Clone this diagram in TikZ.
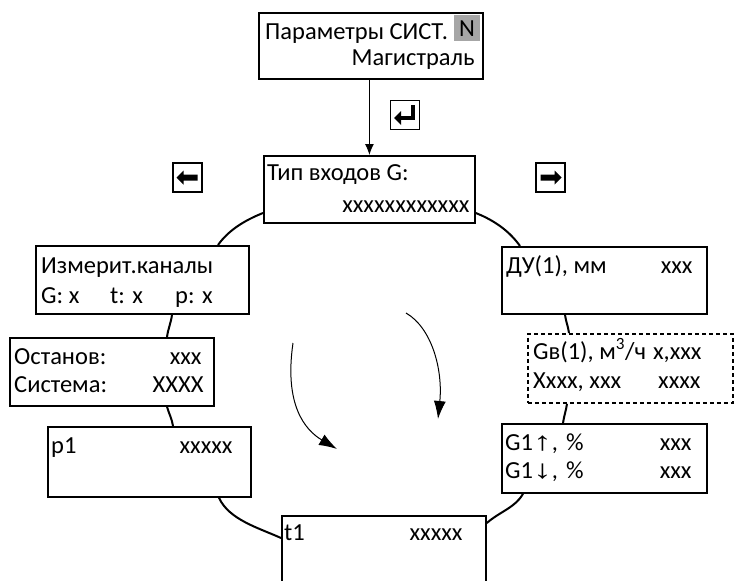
\documentclass[tikz,border=0pt]{standalone}
\usepackage{fontspec}
\usepackage{graphicx}
\setmainfont{Carlito}
\newfontfamily\arr{Liberation Sans}
\newcommand{\myarrow}[1]{{\arr\fontsize{26}{28}\selectfont\scalebox{1.45}[1]{#1}}}
\usetikzlibrary{calc,arrows.meta}
\begin{document}
\begin{tikzpicture}[x=1pt,y=-1pt,
  box/.style={draw, line width=1.8pt, rectangle, inner sep=0pt, anchor=north west},
  dbox/.style={box, dash pattern=on 4pt off 3pt},
  txt/.style={inner sep=0pt, font=\fontsize{24.5}{28}\selectfont},
  link/.style={line width=2pt},
  flow/.style={line width=1pt, -{Latex[length=18pt,width=12pt]}},
  icon/.style={draw, line width=1.4pt, rectangle, minimum size=29pt, inner sep=0pt},
  glyph/.style={fill=black}
]
\path[use as bounding box, clip] (0,0) rectangle (734,581);

% boxes
\node[box, minimum width=224pt, minimum height=66pt] (top) at (258,12) {};
\node[box, minimum width=211pt, minimum height=67pt] (tip) at (263,155) {};
\node[box, minimum width=213pt, minimum height=68pt] (izm) at (35,245) {};
\node[box, minimum width=204pt, minimum height=68pt] (ost) at (9,337) {};
\node[box, minimum width=203pt, minimum height=70pt] (p1) at (47,426) {};
\node[box, minimum width=204pt, minimum height=90pt] (t1) at (281,515) {};
\node[box, minimum width=205pt, minimum height=67pt] (du) at (501,246) {};
\node[dbox, minimum width=205pt, minimum height=69pt] (gv) at (527,333) {};
\node[box, minimum width=205pt, minimum height=69pt] (g1) at (501,423) {};

% texts
\node[txt, anchor=base west] (t-top1) at ($(top.north west)+(7,27)$) {Параметры СИСТ.};
\node[txt, anchor=north west, fill=black!35, minimum width=26pt, minimum height=26pt] (t-n) at ($(top.north east)+(-30,3)$) {N};
\node[txt, anchor=base east] (t-top2) at ($(top.north east)+(-9,53)$) {Магистраль};

\node[txt, anchor=base west] (t-tip1) at ($(tip.north west)+(4,25)$) {Тип входов G:};
\node[txt, anchor=base east] (t-tip2) at ($(tip.north east)+(-6,57)$) {xxxxxxxxxxxx};

\node[txt, anchor=base west] (t-izm1) at ($(izm.north west)+(6,28)$) {Измерит.каналы};
\node[txt, anchor=base west] (t-izm2) at ($(izm.north west)+(6,58)$) {G: x};
\node[txt, anchor=base west] (t-izm3) at ($(izm.north west)+(75,58)$) {t: x};
\node[txt, anchor=base west] (t-izm4) at ($(izm.north west)+(140,58)$) {p: x};

\node[txt, anchor=base west] (t-ost1) at ($(ost.north west)+(5,27)$) {Останов:};
\node[txt, anchor=base west] (t-ost2) at ($(ost.north west)+(5,55)$) {Система:};
\node[txt, anchor=base east] (t-ost3) at ($(ost.north east)+(-13,27)$) {xxx};
\node[txt, anchor=base east] (t-ost4) at ($(ost.north east)+(-11,55)$) {XXXX};

\node[txt, anchor=base west] (t-p1a) at ($(p1.north west)+(4,27)$) {p1};
\node[txt, anchor=base east] (t-p1b) at ($(p1.north east)+(-19,27)$) {xxxxx};

\node[txt, anchor=base west] (t-t1a) at ($(t1.north west)+(3,25)$) {t1};
\node[txt, anchor=base east] (t-t1b) at ($(t1.north east)+(-24,25)$) {xxxxx};

\node[txt, anchor=base west] (t-du1) at ($(du.north west)+(5,27)$) {ДУ(1), мм};
\node[txt, anchor=base east] (t-du2) at ($(du.north east)+(-15,27)$) {xxx};

\node[txt, anchor=base west] (t-gv1) at ($(gv.north west)+(6,26)$) {Gв(1), м\textsuperscript{3}/ч};
\node[txt, anchor=base east] (t-gv2) at ($(gv.north east)+(-32,26)$) {x,xxx};
\node[txt, anchor=base west] (t-gv3) at ($(gv.north west)+(6,55)$) {Xxxx, xxx};
\node[txt, anchor=base east] (t-gv4) at ($(gv.north east)+(-33,55)$) {xxxx};

\node[txt, anchor=base west] (t-g1a) at ($(g1.north west)+(4,27)$) {G1\myarrow{↑},\hspace{8pt}\%};
\node[txt, anchor=base west] (t-g1b) at ($(g1.north west)+(4,55)$) {G1\myarrow{↓},\hspace{8pt}\%};
\node[txt, anchor=base east] (t-g1c) at ($(g1.north east)+(-16,27)$) {xxx};
\node[txt, anchor=base east] (t-g1d) at ($(g1.north east)+(-16,55)$) {xxx};

% ring connectors
\draw[link] ($(tip.north west)+(0,58)$) .. controls +(-20,8) and +(10,-14) .. ($(izm.north west)+(183,0)$);
\draw[link] ($(tip.north east)+(0,58)$) .. controls +(20,8) and +(-10,-14) .. ($(du.north west)+(19,0)$);
\draw[link] ($(izm.south west)+(137,0)$) .. controls +(-1,8) and +(1,-8) .. ($(ost.north west)+(158,0)$);
\draw[link] ($(ost.south west)+(158,0)$) .. controls +(2,7) and +(-1,-7) .. ($(p1.north west)+(126,0)$);
\draw[link] ($(p1.south west)+(172,0)$) .. controls +(10,22) and +(-22,-10) .. ($(t1.north west)+(0,23)$);
\draw[link] ($(du.south west)+(64,0)$) .. controls +(1,7) and +(-1,-7) .. ($(gv.north west)+(42,0)$);
\draw[link] ($(gv.south west)+(40,0)$) .. controls +(-1,7) and +(1,-7) .. ($(g1.north west)+(62,0)$);
\draw[link] ($(g1.south west)+(22,0)$) .. controls +(-8,14) and +(14,-12) .. ($(t1.north east)+(0,8)$);

% entry arrow
\draw[line width=1pt, -{Latex[length=11pt,width=9pt]}] (tip.north |- top.south) -- (tip.north);

% icons
\node[icon] (enter) at (405,115) {};
\draw[line width=3.5pt] ($(enter.center)+(8,-10)$) -- ($(enter.center)+(8,3)$) -- ($(enter.center)+(-5,3)$);
\fill[glyph] ($(enter.center)+(-11,3)$) -- ($(enter.center)+(-4,-4)$) -- ($(enter.center)+(-4,10)$) -- cycle;

\node[icon] (left) at (187.5,177.5) {};
\fill[glyph] ($(left.center)+(-11,0)$) -- ($(left.center)+(-4,-7)$) -- ($(left.center)+(-4,-3)$) -- ($(left.center)+(10,-3)$) -- ($(left.center)+(10,3)$) -- ($(left.center)+(-4,3)$) -- ($(left.center)+(-4,7)$) -- cycle;

\node[icon] (right) at (550.5,177.5) {};
\fill[glyph] ($(right.center)+(11,0)$) -- ($(right.center)+(4,-7)$) -- ($(right.center)+(4,-3)$) -- ($(right.center)+(-10,-3)$) -- ($(right.center)+(-10,3)$) -- ($(right.center)+(4,3)$) -- ($(right.center)+(4,7)$) -- cycle;

% rotation arrows
\coordinate (a1s) at (293,343);
\coordinate (a1e) at (337,449);
\coordinate (a2s) at (406,313);
\coordinate (a2e) at (438,419);
\draw[flow] (a1s) .. controls (284,405) and (305,430) .. (a1e);
\draw[flow] (a2s) .. controls (432,328) and (443,370) .. (a2e);
\end{tikzpicture}
\end{document}
